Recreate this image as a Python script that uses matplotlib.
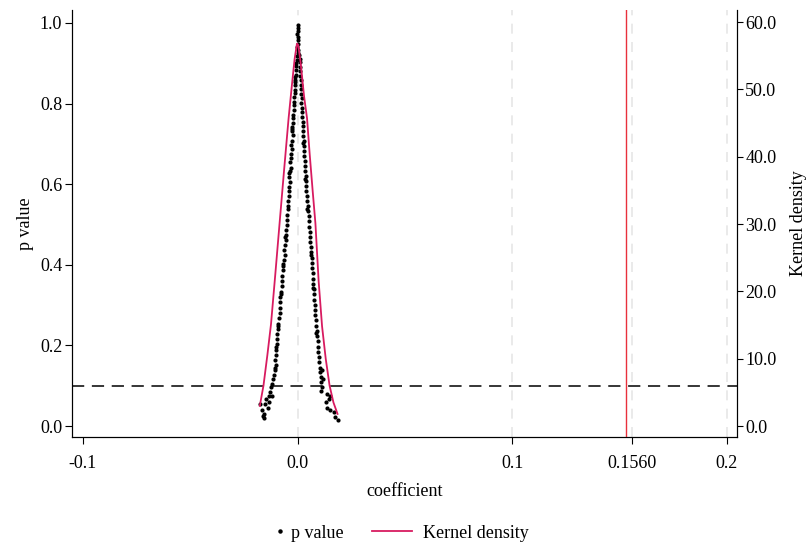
import matplotlib
matplotlib.use("Agg")
import matplotlib.pyplot as plt
from matplotlib.lines import Line2D

plt.rcParams["font.family"] = ["Liberation Serif", "DejaVu Serif"]
plt.rcParams["font.size"] = 13

# placebo estimates: coefficient and p value, left side of the peak
coef_left = [0.0000, 0.0002, 0.0001, -0.0001, 0.0003, 0.0000, 0.0002, -0.0002, 0.0004, 0.0001,
             -0.0004, -0.0005, -0.0007, -0.0006, -0.0008, -0.0009, -0.0011, -0.0010, -0.0013, -0.0014,
             -0.0013, -0.0016, -0.0017, -0.0015, -0.0019, -0.0020, -0.0022, -0.0021, -0.0024, -0.0025,
             -0.0023, -0.0027, -0.0029, -0.0028, -0.0031, -0.0032, -0.0034, -0.0033, -0.0036, -0.0038,
             -0.0037, -0.0040, -0.0042, -0.0041, -0.0044, -0.0046, -0.0045, -0.0048, -0.0051, -0.0050,
             -0.0054, -0.0056, -0.0055, -0.0059, -0.0062, -0.0061, -0.0065, -0.0067, -0.0069, -0.0071,
             -0.0074, -0.0073, -0.0077, -0.0080, -0.0082, -0.0084, -0.0083, -0.0088, -0.0091, -0.0093,
             -0.0095, -0.0097, -0.0096, -0.0100, -0.0102, -0.0104, -0.0101, -0.0107, -0.0110, -0.0113,
             -0.0117, -0.0123, -0.0127, -0.0135, -0.0119, -0.0146, -0.0131, -0.0174, -0.0151, -0.0140,
             -0.0166, -0.0155, -0.0158, -0.0162,
             -0.0012, -0.0027, -0.0039, -0.0057, -0.0066, -0.0079, -0.0090, -0.0099, -0.0106]
p_left = [0.995, 0.988, 0.979, 0.972, 0.964, 0.957, 0.948, 0.941, 0.933, 0.926,
          0.918, 0.909, 0.901, 0.893, 0.884, 0.872, 0.865, 0.853, 0.846, 0.834,
          0.826, 0.815, 0.803, 0.796, 0.784, 0.772, 0.763, 0.751, 0.742, 0.731,
          0.722, 0.708, 0.697, 0.688, 0.676, 0.664, 0.655, 0.641, 0.632, 0.618,
          0.606, 0.594, 0.583, 0.571, 0.559, 0.547, 0.538, 0.524, 0.511, 0.499,
          0.487, 0.473, 0.462, 0.448, 0.436, 0.424, 0.411, 0.398, 0.386, 0.372,
          0.359, 0.347, 0.333, 0.320, 0.307, 0.294, 0.281, 0.268, 0.254, 0.241,
          0.228, 0.215, 0.203, 0.189, 0.176, 0.163, 0.151, 0.139, 0.127, 0.116,
          0.104, 0.096, 0.084, 0.075, 0.075, 0.067, 0.061, 0.055, 0.055, 0.046,
          0.040, 0.030, 0.019, 0.024,
          0.858, 0.737, 0.627, 0.468, 0.403, 0.327, 0.248, 0.196, 0.145]

# right side of the peak
coef_right = [0.0008, 0.0009, 0.0010, 0.0012, 0.0011, 0.0013, 0.0015, 0.0014, 0.0016, 0.0017,
              0.0019, 0.0018, 0.0020, 0.0022, 0.0021, 0.0023, 0.0025, 0.0026, 0.0027, 0.0029,
              0.0030, 0.0029, 0.0032, 0.0033, 0.0035, 0.0036, 0.0038, 0.0040, 0.0041, 0.0040,
              0.0043, 0.0045, 0.0047, 0.0049, 0.0051, 0.0053, 0.0055, 0.0056, 0.0058, 0.0060,
              0.0061, 0.0063, 0.0065, 0.0066, 0.0068, 0.0070, 0.0071, 0.0073, 0.0075, 0.0077,
              0.0078, 0.0080, 0.0082, 0.0083, 0.0085, 0.0088, 0.0089, 0.0091, 0.0093, 0.0094,
              0.0096, 0.0098, 0.0100, 0.0103, 0.0105, 0.0108, 0.0111, 0.0114, 0.0109, 0.0137,
              0.0152, 0.0145, 0.0134, 0.0139, 0.0152, 0.0168, 0.0176, 0.0186,
              0.0024, 0.0034, 0.0044, 0.0062, 0.0074, 0.0087, 0.0112, 0.0117]
p_right = [0.920, 0.911, 0.902, 0.890, 0.881, 0.869, 0.858, 0.847, 0.836, 0.824,
           0.813, 0.801, 0.790, 0.778, 0.767, 0.755, 0.744, 0.732, 0.719, 0.707,
           0.695, 0.683, 0.670, 0.658, 0.646, 0.633, 0.621, 0.608, 0.596, 0.584,
           0.571, 0.558, 0.546, 0.533, 0.520, 0.508, 0.495, 0.482, 0.470, 0.457,
           0.444, 0.431, 0.418, 0.405, 0.392, 0.379, 0.366, 0.353, 0.340, 0.327,
           0.314, 0.301, 0.288, 0.275, 0.262, 0.249, 0.236, 0.223, 0.210, 0.197,
           0.184, 0.171, 0.158, 0.145, 0.133, 0.121, 0.110, 0.096, 0.088, 0.079,
           0.075, 0.067, 0.059, 0.046, 0.040, 0.036, 0.022, 0.015,
           0.702, 0.612, 0.539, 0.425, 0.342, 0.232, 0.140, 0.118]

# kernel density of the placebo coefficients
kd_x = [-0.0176, -0.0159, -0.0141, -0.0124, -0.0104, -0.0084, -0.0063, -0.0042, -0.0027,
        -0.0014, -0.0003, 0.0003, 0.0014, 0.0030, 0.0044, 0.0056, 0.0070, 0.0083, 0.0098,
        0.0114, 0.0131, 0.0149, 0.0167, 0.0186]
kd_y = [3.0, 6.0, 10.5, 15.1, 22.5, 30.1, 38.0, 45.7, 50.5, 54.5, 56.8, 56.6, 54.0, 49.0,
        45.7, 40.5, 35.0, 30.1, 21.5, 14.8, 10.0, 6.0, 3.5, 1.8]

true_coef = 0.153
xticks = [-0.1, 0.0, 0.1, 0.156, 0.2]
xtick_labels = ["-0.1", "0.0", "0.1", "0.1560", "0.2"]

red = "#d81b60"

fig = plt.figure(figsize=(8.11, 5.44), dpi=100)
ax = fig.add_axes([72 / 811, 107 / 544, 665 / 811, 427 / 544])
ax2 = ax.twinx()

for xv in [0.0, 0.1, 0.156, 0.2]:
    ax.axvline(xv, color="#e6e6e6", lw=1.2, ls=(0, (6, 5)), zorder=0)
ax.axhline(0.1, color="black", lw=1.1, ls=(0, (8, 5)), zorder=1)

ax.scatter(coef_left + coef_right, p_left + p_right, s=9, color="black", lw=0, zorder=3)
ax2.plot(kd_x, kd_y, color=red, lw=1.3, zorder=4)
ax2.axvline(true_coef, color="#e8303c", lw=1.0)

ax.set_xlim(-0.1051, 0.2047)
ax.set_ylim(-0.027, 1.032)
ax2.set_ylim(-1.63, 61.8)

ax.set_xticks(xticks)
ax.set_xticklabels(xtick_labels)
ax.set_yticks([0.0, 0.2, 0.4, 0.6, 0.8, 1.0])
ax.set_yticklabels(["0.0", "0.2", "0.4", "0.6", "0.8", "1.0"])
ax2.set_yticks([0, 10, 20, 30, 40, 50, 60])
ax2.set_yticklabels(["0.0", "10.0", "20.0", "30.0", "40.0", "50.0", "60.0"])

for a in (ax, ax2):
    a.spines["top"].set_visible(False)
    a.tick_params(direction="out", length=5, width=0.8, labelsize=13)
ax.tick_params(axis="x", pad=8)
ax.tick_params(axis="y", pad=2)
ax2.tick_params(axis="y", length=4, pad=2)
ax.set_xlabel("coefficient", fontsize=13, labelpad=8)
ax.set_ylabel("p value", fontsize=13)
ax2.set_ylabel("Kernel density", fontsize=13, labelpad=10)

# legend along the bottom
ly = 1 - 531 / 544
fig.add_artist(Line2D([280 / 811], [ly], ls="none", marker="o", markersize=2.2,
                      color="black", transform=fig.transFigure))
fig.text(291 / 811, ly, "p value", fontsize=13, va="center_baseline", ha="left")
fig.add_artist(Line2D([372 / 811, 412 / 811], [ly, ly], color=red, lw=1.3,
                      transform=fig.transFigure))
fig.text(423 / 811, ly, "Kernel density", fontsize=13, va="center_baseline", ha="left")

fig.savefig("out.png", dpi=100)
